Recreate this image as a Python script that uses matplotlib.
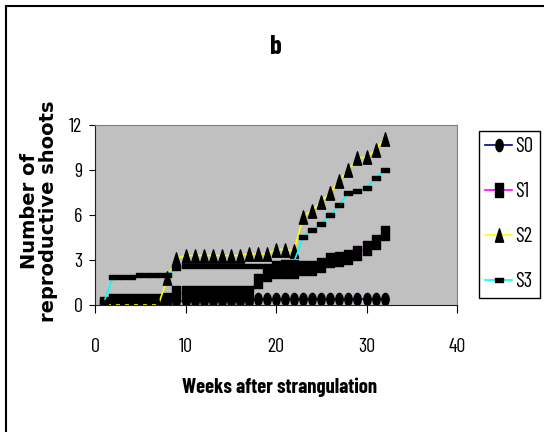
import matplotlib
matplotlib.use('Agg')
import matplotlib.pyplot as plt
from matplotlib import font_manager as fm
from matplotlib.path import Path
from matplotlib.markers import MarkerStyle
from matplotlib.patches import Rectangle
from matplotlib.transforms import Affine2D

# data
weeks = list(range(1, 33))
s0 = [0.1] + [0.25] * 16 + [0.4] * 15
s1 = [0.1, 0.3, 0.3, 0.3, 0.3, 0.3, 0.3, 0.35, 0.8, 0.8, 0.8, 0.8, 0.8, 0.8, 0.8, 0.8,
      0.8, 1.6, 2.1, 2.3, 2.3, 2.3, 2.5, 2.5, 2.7, 3.0, 3.1, 3.2, 3.5, 3.8, 4.2, 4.8]
s2 = [0.0, 0.0, 0.0, 0.0, 0.0, 0.0, 0.0, 1.8, 3.1, 3.3, 3.3, 3.3, 3.3, 3.3, 3.3, 3.3,
      3.4, 3.4, 3.4, 3.7, 3.7, 3.6, 5.9, 6.3, 6.9, 7.5, 8.3, 9.0, 9.8, 9.85, 10.35, 11.1]
s3 = [0.2, 1.9, 1.9, 1.9, 2.0, 2.0, 2.0, 2.0, 2.45, 2.6, 2.6, 2.6, 2.6, 2.6, 2.6, 2.6,
      2.6, 2.6, 2.6, 2.8, 2.9, 2.9, 4.55, 5.0, 5.4, 6.0, 6.7, 7.5, 7.6, 7.8, 8.45, 9.0]
labels = ['S0', 'S1', 'S2', 'S3']
xticks = [0, 10, 20, 30, 40]
yticks = [0, 3, 6, 9, 12]


# pick fonts by file name, first one found wins
files = {f.fname.split('/')[-1].lower(): f.fname for f in fm.fontManager.ttflist}

def find_font(options):
	for o in options:
		if o.lower() in files:
			return files[o.lower()]
	return None

narrow_reg = find_font(['LiberationSansNarrow-Regular.ttf', 'BarlowCondensed-Regular.ttf',
	'DejaVuSansCondensed.ttf'])
narrow_bold = find_font(['LiberationSansNarrow-Bold.ttf', 'BarlowCondensed-Bold.ttf',
	'DejaVuSansCondensed-Bold.ttf'])
wide_bold = find_font(['DejaVuSans-Bold.ttf'])


def font(path, size, bold=False):
	if path:
		return fm.FontProperties(fname=path, size=size)
	return fm.FontProperties(family='DejaVu Sans', size=size, weight='bold' if bold else 'normal')


# excel-like markers, a bit squashed sideways
def shape(path, sx, sy):
	return MarkerStyle(path.transformed(Affine2D().scale(sx, sy)))

box = Path.unit_rectangle().transformed(Affine2D().translate(-0.5, -0.5))
circle = shape(Path.unit_circle(), 0.6, 1.0)
square = shape(box, 0.6, 1.0)
tri = shape(Path([(0, 0.5), (0.5, -0.5), (-0.5, -0.5), (0, 0.5)], closed=True), 0.62, 1.0)
dash = shape(box, 1.0, 0.45)

fig = plt.figure(figsize=(5.44, 4.32), dpi=100)
ax = fig.add_axes([95/544, 127/432, 362/544, 180/432])
ax.set_facecolor('#C0C0C0')

series = [s0, s1, s2, s3]
colors = ['#000080', '#FF00FF', '#FFFF00', '#00FFFF']
markers = [circle, square, tri, dash]
msizes = [8.8, 9.4, 9.6, 5.2]
for vals, c, m, ms, lab in zip(series, colors, markers, msizes, labels):
	ax.plot(weeks, vals, color=c, lw=1.2, marker=m, ms=ms, mfc='black', mec='black', label=lab)

ax.set_xlim(0, 40)
ax.set_ylim(0, 12)
ax.set_xticks(xticks)
ax.set_yticks(yticks)
ax.tick_params(axis='x', direction='out', length=6, pad=18)
ax.tick_params(axis='y', direction='out', length=4, pad=5)
for t in ax.get_xticklabels() + ax.get_yticklabels():
	t.set_fontproperties(font(narrow_reg, 14.5))
for s in ['left', 'bottom']:
	ax.spines[s].set_color('#202020')
for s in ['top', 'right']:
	ax.spines[s].set_color('#808080')

fig.text(276/544, 1-47/432, 'b', ha='center', va='center', fontproperties=font(narrow_bold, 19, True))
fig.text(280/544, 1-387/432, 'Weeks after strangulation', ha='center', va='center',
	fontproperties=font(narrow_bold, 14.8, True))
fig.text(39/544, 1-211/432, 'Number of\nreproductive shoots', ha='center', va='center',
	rotation=90, fontproperties=font(wide_bold, 14, True), linespacing=0.95)

leg = fig.legend(loc='upper left', bbox_to_anchor=(479/544, 1-131/432), borderaxespad=0,
	fancybox=False, edgecolor='black', framealpha=1, handlelength=1.3, handletextpad=0.15,
	labelspacing=1.25, borderpad=0.3, prop=font(narrow_reg, 15))
leg.get_frame().set_linewidth(1.0)

# outer frame of the chart (only left/top visible in the crop)
fig.patches.append(Rectangle((6/544, -0.1), 1.2, 1-6/432+0.1, transform=fig.transFigure,
	fill=False, edgecolor='black', lw=1.5))

fig.savefig('out.png', dpi=100)
